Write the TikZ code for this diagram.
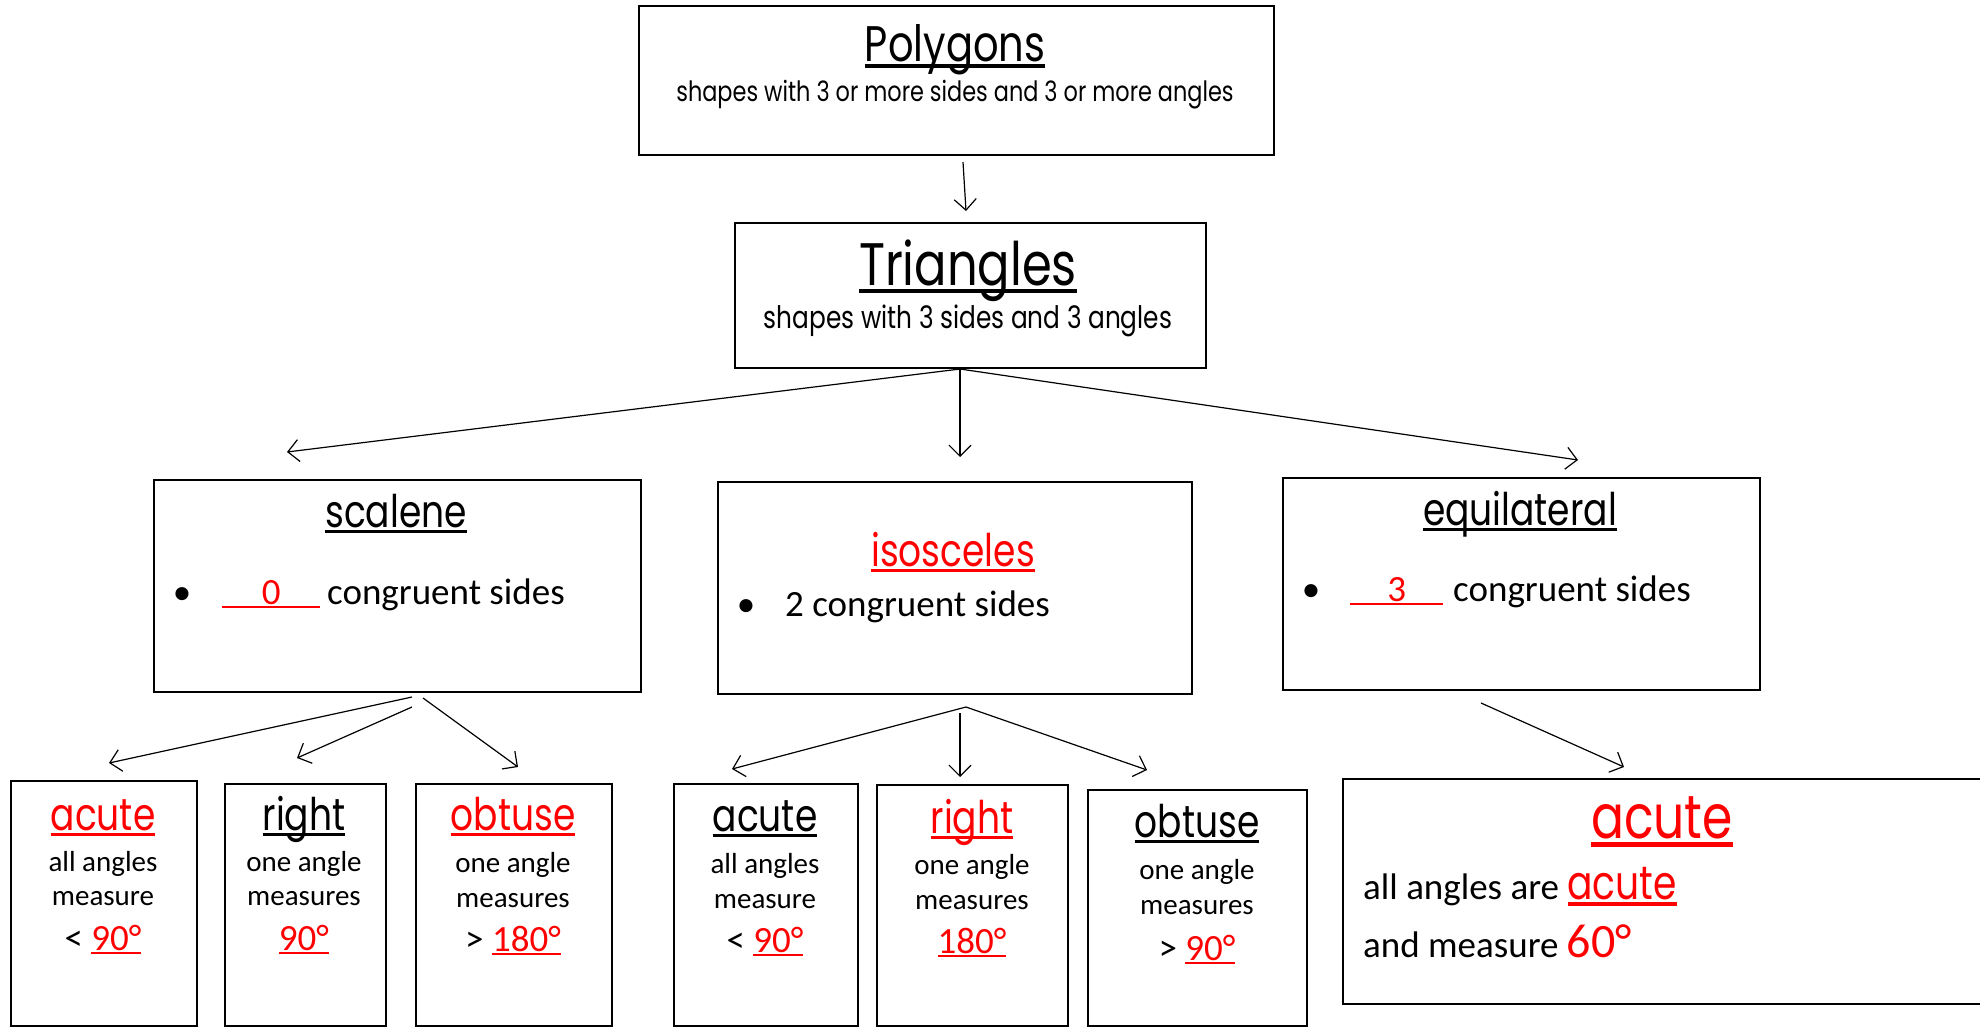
\documentclass[tikz,border=0pt]{standalone}
\usepackage{fontspec}
\setmainfont{Carlito}
\newfontfamily\hd[FakeStretch=0.8]{Poppins}
\usetikzlibrary{arrows.meta}
\definecolor{myred}{RGB}{255,0,0}
% underline: #1 offset below baseline, #2 thickness, #3 text
\newcommand\ulx[3]{\mbox{\setbox0\hbox{#3}\rlap{\copy0}\rule[-#1]{\wd0}{#2}}}
\newcommand\hul[1]{\ulx{0.14em}{0.08em}{#1}}
\newcommand\bul[1]{\ulx{0.12em}{0.07em}{#1}}
\newcommand\fs[1]{\fontsize{#1}{#1}\selectfont}
\tikzset{
  box/.style={draw, line width=2pt, anchor=north west, inner sep=0pt},
  conn/.style={-{Straight Barb[length=11pt,width=22pt]}, line width=1.2pt},
  txt/.style={inner sep=0pt, anchor=base},
  txtw/.style={inner sep=0pt, anchor=base west},
}
\begin{document}
\begin{tikzpicture}[x=1pt,y=-1pt]
\useasboundingbox (0,0) rectangle (1980,1028);
% boxes
\node[box, minimum width=635pt, minimum height=149pt] (poly) at (638,5) {};
\node[box, minimum width=471pt, minimum height=145pt] (tri) at (734,222) {};
\node[box, minimum width=487pt, minimum height=212pt] (sca) at (153,479) {};
\node[box, minimum width=474pt, minimum height=212pt] (iso) at (717,481) {};
\node[box, minimum width=477pt, minimum height=212pt] (equ) at (1282,477) {};
\node[box, minimum width=186pt, minimum height=245pt] (a1) at (10,780) {};
\node[box, minimum width=161pt, minimum height=242pt] (r1) at (224,783) {};
\node[box, minimum width=196pt, minimum height=242pt] (o1) at (415,783) {};
\node[box, minimum width=184pt, minimum height=242pt] (a2) at (673,783) {};
\node[box, minimum width=191pt, minimum height=241pt] (r2) at (876,784) {};
\node[box, minimum width=219pt, minimum height=236pt] (o2) at (1087,789) {};
\node[box, minimum width=660pt, minimum height=225pt] (big) at (1342,778) {};
% top texts
\node[txt] (polyT) at (955,61) {\hd\fs{50}\hul{Polygons}};
\node[txt] (polyS) at (955,101) {\hd\fs{28}shapes with 3 or more sides and 3 or more angles};
\node[txt] (triT) at (968,285) {\hd\fs{60}\hul{Triangles}};
\node[txt] (triS) at (968,328) {\hd\fs{31}shapes with 3 sides and 3 angles};
% scalene
\node[txt] (scaT) at (396,527) {\hd\fs{45}\hul{scalene}};
\node[txt] (scaB) at (182,604) {\fs{37}•};
\node[txtw] (scaN) at (222,604) {\fs{37}\color{myred}\bul{\hbox to 98pt{\hfil 0\hfil}}};
\node[txtw] (scaC) at (327,604) {\fs{37}congruent sides};
% isosceles
\node[txt] (isoT) at (953,566) {\hd\fs{45}\color{myred}\hul{isosceles}};
\node[txt] (isoB) at (746,616) {\fs{37}•};
\node[txtw] (isoC) at (785,616) {\fs{37}2 congruent sides};
% equilateral
\node[txt] (equT) at (1520,525) {\hd\fs{45}\hul{equilateral}};
\node[txt] (equB) at (1311,601) {\fs{37}•};
\node[txtw] (equN) at (1350,601) {\fs{37}\color{myred}\bul{\hbox to 93pt{\hfil 3\hfil}}};
\node[txtw] (equC) at (1453,601) {\fs{37}congruent sides};
% bottom row left
\node[txt] (a1T) at (103,830) {\hd\fs{45}\color{myred}\hul{acute}};
\node[txt] (a1L1) at (103,871) {\fs{29}all angles};
\node[txt] (a1L2) at (103,905) {\fs{29}measure};
\node[txt] (a1L3) at (103,950) {\fs{37}< \color{myred}\bul{90°}};
\node[txt] (r1T) at (304,830) {\hd\fs{45}\hul{right}};
\node[txt] (r1L1) at (304,871) {\fs{29}one angle};
\node[txt] (r1L2) at (304,905) {\fs{29}measures};
\node[txt] (r1L3) at (304,950) {\fs{37}\color{myred}\bul{90°}};
\node[txt] (o1T) at (513,830) {\hd\fs{45}\color{myred}\hul{obtuse}};
\node[txt] (o1L1) at (513,872) {\fs{29}one angle};
\node[txt] (o1L2) at (513,907) {\fs{29}measures};
\node[txt] (o1L3) at (513,951) {\fs{37}> \color{myred}\bul{180°}};
% bottom row middle
\node[txt] (a2T) at (765,831) {\hd\fs{45}\hul{acute}};
\node[txt] (a2L1) at (765,873) {\fs{29}all angles};
\node[txt] (a2L2) at (765,908) {\fs{29}measure};
\node[txt] (a2L3) at (765,952) {\fs{37}< \color{myred}\bul{90°}};
\node[txt] (r2T) at (972,833) {\hd\fs{45}\color{myred}\hul{right}};
\node[txt] (r2L1) at (972,874) {\fs{29}one angle};
\node[txt] (r2L2) at (972,909) {\fs{29}measures};
\node[txt] (r2L3) at (972,953) {\fs{37}\color{myred}\bul{180°}};
\node[txt] (o2T) at (1197,837) {\hd\fs{45}\hul{obtuse}};
\node[txt] (o2L1) at (1197,879) {\fs{29}one angle};
\node[txt] (o2L2) at (1197,914) {\fs{29}measures};
\node[txt] (o2L3) at (1197,960) {\fs{37}> \color{myred}\bul{90°}};
% big acute box
\node[txt] (bigT) at (1662,838) {\hd\fs{61}\color{myred}\hul{acute}};
\node[txtw] (bigL1) at (1363,899) {\fs{37}all angles are {\hd\fs{47}\color{myred}\hul{acute}}};
\node[txtw] (bigL2) at (1363,957) {\fs{37}and measure {\fs{48}\color{myred}60°}};
% connector end points
\coordinate (polyS1) at (963,162);  \coordinate (triE) at (966,211);
\coordinate (triS1) at (960,369);
\coordinate (scaE) at (287,452);
\coordinate (isoE) at (960,457);
\coordinate (equE) at (1578,460);
\coordinate (scaS1) at (412,697); \coordinate (a1E) at (109,763);
\coordinate (scaS2) at (412,707); \coordinate (r1E) at (297,758);
\coordinate (scaS3) at (423,698); \coordinate (o1E) at (518,767);
\coordinate (isoS1) at (966,707); \coordinate (a2E) at (732,769);
\coordinate (isoS2) at (960,713); \coordinate (r2E) at (960,777);
\coordinate (o2E) at (1147,770);
\coordinate (equS1) at (1481,703); \coordinate (bigE) at (1624,767);
% connectors
\draw[conn] (polyS1) -- (triE);
\draw[conn] (triS1) -- (scaE);
\draw[conn] (triS1) -- (isoE);
\draw[conn] (triS1) -- (equE);
\draw[conn] (scaS1) -- (a1E);
\draw[conn] (scaS2) -- (r1E);
\draw[conn] (scaS3) -- (o1E);
\draw[conn] (isoS1) -- (a2E);
\draw[conn] (isoS2) -- (r2E);
\draw[conn] (isoS1) -- (o2E);
\draw[conn] (equS1) -- (bigE);
\end{tikzpicture}
\end{document}
